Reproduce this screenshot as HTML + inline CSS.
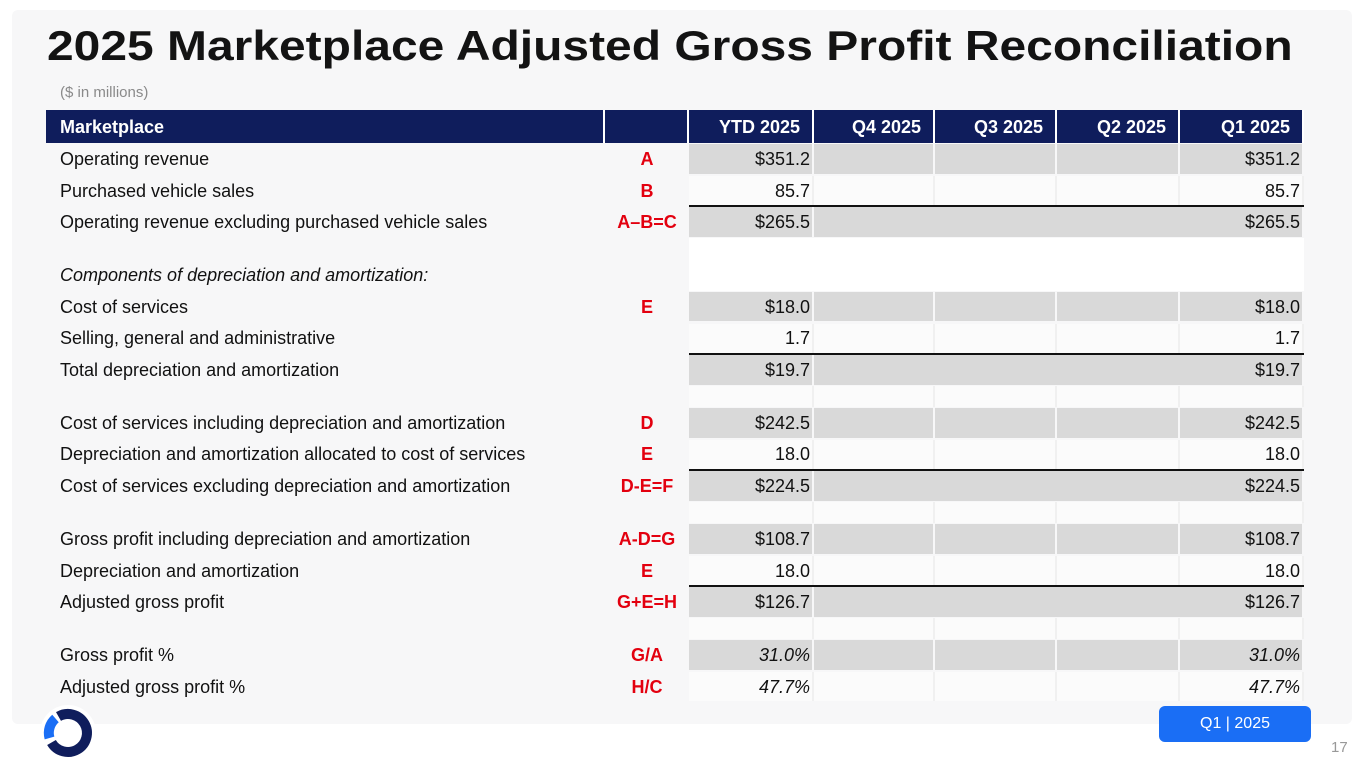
<!DOCTYPE html>
<html><head><meta charset="utf-8"><style>
*{margin:0;padding:0;box-sizing:border-box}
body{width:1365px;height:768px;background:#fff;font-family:"Liberation Sans",sans-serif;position:relative;overflow:hidden}
#panel{position:absolute;left:12px;top:10px;width:1340px;height:714px;background:#f7f7f8;border-radius:6px}
#title{position:absolute;left:47px;top:22px;font-size:42px;font-weight:bold;color:#131313;white-space:nowrap;transform-origin:0 0;transform:scaleX(1.142)}
#sub{position:absolute;left:60px;top:84px;font-size:15px;color:#8a8a8a}
.cell{position:absolute;font-size:18px;color:#111;line-height:1;display:flex;align-items:center;white-space:nowrap}
.hdr{background:#0f1d5c;color:#fff;font-weight:bold;border-right:2px solid #fff}
.num{justify-content:flex-end;padding-right:2px}
.gray{background:#d9d9d9;border-right:2px solid #f7f7f8}
.light{background:#fbfbfb;border-right:2px solid #f0f0f0}
.code{color:#e3000f;font-weight:bold;justify-content:center}
.line{position:absolute;height:2px;background:#111;left:689px;width:615px}
#badge{position:absolute;left:1159px;top:706px;width:152px;height:36px;background:#1a6ef5;border-radius:6px;color:#fff;font-size:16px;line-height:36px;text-align:center}
#pg{position:absolute;left:1331px;top:739px;font-size:15px;color:#999}
</style></head><body>
<div id="panel"></div>
<div id="title">2025 Marketplace Adjusted Gross Profit Reconciliation</div>
<div id="sub">($ in millions)</div>
<div id="tbl"></div>
<svg style="position:absolute;left:40px;top:705px" width="56" height="56">
<circle cx="28" cy="28" r="28" fill="#fff"/>
<path d="M 18.5 11.5 A 19 19 0 1 1 11.5 37.5" fill="none" stroke="#0f1d5c" stroke-width="10"/>
<path d="M 9.5 33 A 19 19 0 0 1 15.5 13.5" fill="none" stroke="#1a6ef5" stroke-width="10"/>
</svg>
<div id="badge">Q1 | 2025</div>
<div id="pg">17</div>
<script>
const headers=["YTD 2025","Q4 2025","Q3 2025","Q2 2025","Q1 2025"];
const labels=["Operating revenue","Purchased vehicle sales","Operating revenue excluding purchased vehicle sales",null,"Components of depreciation and amortization:","Cost of services","Selling, general and administrative","Total depreciation and amortization",null,"Cost of services including depreciation and amortization","Depreciation and amortization allocated to cost of services","Cost of services excluding depreciation and amortization",null,"Gross profit including depreciation and amortization","Depreciation and amortization","Adjusted gross profit",null,"Gross profit %","Adjusted gross profit %"];
const codes=["A","B","A\u2013B=C",null,"","E","","",null,"D","E","D-E=F",null,"A-D=G","E","G+E=H",null,"G/A","H/C"];
const ytd=["$351.2","85.7","$265.5",null,"","$18.0","1.7","$19.7",null,"$242.5","18.0","$224.5",null,"$108.7","18.0","$126.7",null,"31.0%","47.7%"];
const q1=ytd;
const grayRows=[0,2,5,7,9,11,13,15,17];
const colX=[689,814,935,1057,1180,1304];
const T=document.getElementById('tbl');
function mk(cls,x,y,w,h,txt){const d=document.createElement('div');d.className='cell '+cls;d.style.left=x+'px';d.style.top=y+'px';d.style.width=w+'px';d.style.height=h+'px';if(txt!=null)d.textContent=txt;T.appendChild(d);return d;}
let e;
e=mk('hdr',46,110,559,33,'Marketplace');e.style.paddingLeft='14px';


e=mk('hdr',605,110,84,33,'');


headers.forEach((h,i)=>{
  e=mk('hdr num',colX[i],110,colX[i+1]-colX[i],33,h);e.style.paddingRight='12px';
  
  
});
let y=143;
labels.forEach((lab,r)=>{
  if(lab===null){
    for(let i=0;i<5;i++){e=mk(r===3?'':'light',colX[i],y,colX[i+1]-colX[i],21,'');
      if(r===3)e.style.background='#fff';
      
      }
    y+=21;return;
  }
  const h=31.7;
  const isComp=r===4;
  const gray=grayRows.includes(r);
  e=mk('',60,y,540,h,lab);if(isComp)e.style.fontStyle='italic';
  
  
  e=mk('code',605,y,84,h,codes[r]);
  
  
  if(isComp){for(let i=0;i<5;i++){e=mk('',colX[i],y,colX[i+1]-colX[i],h,'');e.style.background='#fff';
      
      }
    y+=h;return;}
  const tot=[2,7,11,15].includes(r);
  for(let i=0;i<5;i++){
    const v=(i===0)?ytd[r]:(i===4?q1[r]:'');
    e=mk((gray?'gray':'light')+' num',colX[i],y+1,colX[i+1]-colX[i],h-2,v);
    if(r>=17)e.style.fontStyle='italic';
    if(tot&&gray&&i>0&&i<4)e.style.borderRight='none';
    
    
  }
  if(tot){const l=document.createElement('div');l.className='line';l.style.top=(y-1)+'px';T.appendChild(l);
    
    }
  y+=h;
});
</script>
</body></html>
